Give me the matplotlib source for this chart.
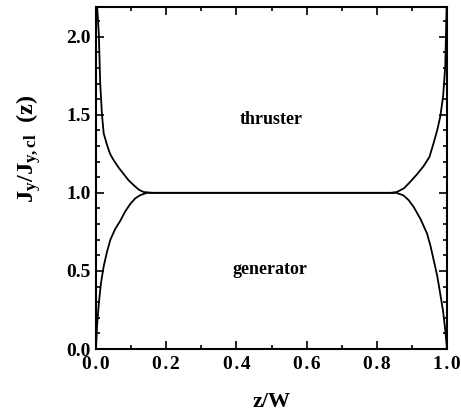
import matplotlib
matplotlib.use("Agg")
import matplotlib.pyplot as plt
from matplotlib.ticker import MultipleLocator

plt.rcParams['font.family'] = 'Liberation Serif'
plt.rcParams['font.weight'] = 'bold'
plt.rcParams['mathtext.fontset'] = 'custom'
plt.rcParams['mathtext.rm'] = 'Liberation Serif:bold'
plt.rcParams['mathtext.bf'] = 'Liberation Serif:bold'
plt.rcParams['mathtext.it'] = 'Liberation Serif:bold'

# thruster curve (upper branch)
thr_x = [0.0, 0.003, 0.008, 0.012, 0.017, 0.022, 0.031, 0.04, 0.05, 0.065, 0.079, 0.093,
         0.107, 0.122, 0.136, 0.16, 0.5, 0.84, 0.857, 0.878, 0.895, 0.915, 0.933, 0.95,
         0.962, 0.972, 0.981, 0.989, 0.995, 1.0]
thr_y = [2.3, 2.2, 2.02, 1.7, 1.5, 1.38, 1.31, 1.25, 1.21, 1.16, 1.12, 1.08,
         1.05, 1.02, 1.005, 1.0, 1.0, 1.0, 1.005, 1.03, 1.07, 1.12, 1.17, 1.23,
         1.32, 1.40, 1.49, 1.62, 1.81, 2.3]
# generator curve (lower branch)
gen_x = [0.0, 0.003, 0.008, 0.014, 0.022, 0.031, 0.041, 0.055, 0.069, 0.083, 0.098,
         0.112, 0.126, 0.145, 0.5, 0.855, 0.875, 0.89, 0.905, 0.925, 0.943, 0.953,
         0.962, 0.972, 0.981, 0.989, 0.995, 1.0]
gen_y = [0.0, 0.15, 0.29, 0.42, 0.53, 0.62, 0.70, 0.77, 0.82, 0.88, 0.93,
         0.965, 0.985, 1.0, 1.0, 1.0, 0.985, 0.955, 0.91, 0.83, 0.74, 0.66,
         0.57, 0.47, 0.35, 0.24, 0.12, 0.0]

xticks = [0.0, 0.2, 0.4, 0.6, 0.8, 1.0]
xticklabels = ['0\u200a.\u200a0', '0\u200a.\u200a2', '0\u200a.\u200a4',
               '0\u200a.\u200a6', '0\u200a.\u200a8', '1\u200a.\u200a0']
yticks = [0.0, 0.5, 1.0, 1.5, 2.0]
yticklabels = ['0.0', '0.5', '1.0', '1.5', '2.0']

fig = plt.figure(figsize=(4.61, 4.17), dpi=100)
ax = fig.add_axes([96/461, 1-349/417, 351/461, 342/417])
ax.plot(thr_x, thr_y, color='black', lw=1.3)
ax.plot(gen_x, gen_y, color='black', lw=1.3)
ax.set_xlim(0, 1.0)
ax.set_ylim(0, 2.19)
ax.set_xticks(xticks)
ax.set_xticklabels(xticklabels, family=['Liberation Serif', 'DejaVu Serif'])
ax.set_yticks(yticks)
ax.set_yticklabels(yticklabels)
ax.xaxis.set_minor_locator(MultipleLocator(0.1))
ax.yaxis.set_minor_locator(MultipleLocator(0.1))
ax.tick_params(which='both', direction='in', top=True, right=True, width=1.2)
ax.tick_params(which='major', length=6, labelsize=14)
ax.tick_params(which='minor', length=3)
ax.tick_params(axis='x', pad=5)
ax.tick_params(axis='y', pad=4)
for s in ax.spines.values():
    s.set_linewidth(1.5)
ax.text(0.5, 1.47, 'thruster', ha='center', va='center', fontsize=13, fontweight='bold')
ax.text(0.495, 0.51, 'generator', ha='center', va='center', fontsize=13, fontweight='bold')
ax.set_xlabel('z/W', fontsize=16, fontweight='bold', labelpad=14)
ax.set_ylabel(r'$\mathrm{J_y/J_{y,cl}}$  (z)', fontsize=17.5, fontweight='bold')
ax.yaxis.set_label_coords(-0.15, 0.585)
fig.savefig('out.png', dpi=100)
